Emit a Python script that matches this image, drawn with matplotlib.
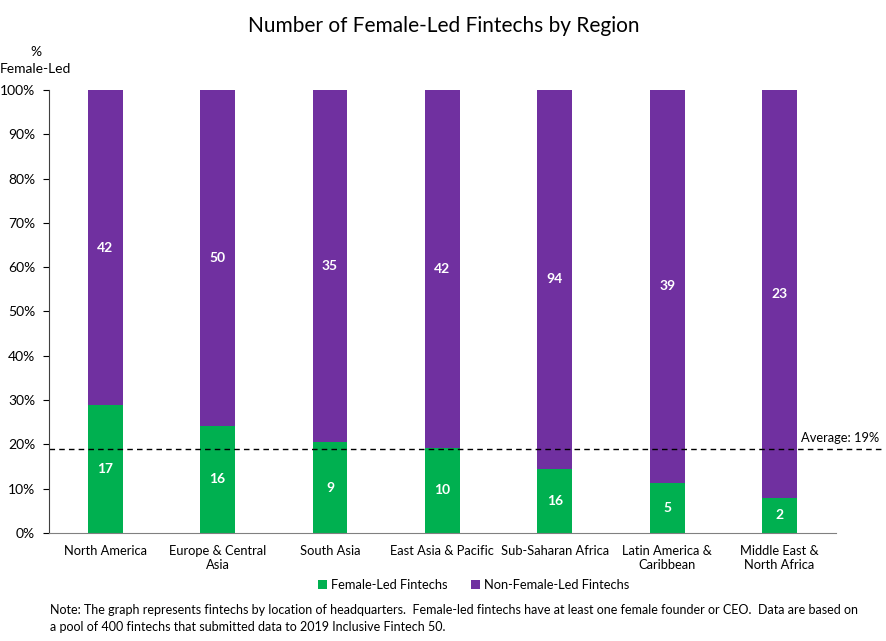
import numpy as np
import matplotlib.pyplot as plt
from matplotlib.ticker import PercentFormatter

regions = ['North America', 'Europe & Central\nAsia', 'South Asia', 'East Asia & Pacific',
           'Sub-Saharan Africa', 'Latin America &\nCaribbean', 'Middle East &\nNorth Africa']
female_led = np.array([17, 16, 9, 10, 16, 5, 2])
non_female_led = np.array([42, 50, 35, 42, 94, 39, 23])
average = 19

green = '#00B050'
purple = '#7030A0'

plt.rcParams['font.family'] = ['Lato', 'DejaVu Sans']

total = female_led + non_female_led
pct_f = female_led / total * 100
pct_n = non_female_led / total * 100

fig = plt.figure(figsize=(8.87, 6.41), dpi=100)
ax = fig.add_axes([0.0552, 0.1685, 0.887, 0.6911])

x = np.arange(len(regions))
w = 0.31
ax.bar(x, pct_f, w, color=green, label='Female-Led Fintechs')
ax.bar(x, pct_n, w, bottom=pct_f, color=purple, label='Non-Female-Led Fintechs')

for i in range(len(regions)):
    ax.text(x[i], pct_f[i] / 2, str(female_led[i]), ha='center', va='center',
            color='white', fontsize=10, fontweight='bold')
    ax.text(x[i], pct_f[i] + pct_n[i] / 2, str(non_female_led[i]), ha='center', va='center',
            color='white', fontsize=10, fontweight='bold')

# average line runs past the axes on the right
ax.plot([-0.5, 6.9], [average, average], ls=(0, (4, 3)), color='black', lw=1, clip_on=False)
ax.text(6.89, average + 1.2, f'Average: {average}%', ha='right', va='bottom', fontsize=9.3)

ax.set_xlim(-0.5, 6.5)
ax.set_ylim(0, 100)
ax.set_yticks(np.arange(0, 101, 10))
ax.yaxis.set_major_formatter(PercentFormatter(decimals=0))
ax.set_xticks(x)
ax.set_xticklabels(regions, fontsize=9.3)
ax.tick_params(axis='x', length=0, pad=9)
ax.tick_params(axis='y', length=4, labelsize=10, pad=6)
for s in ['top', 'right']:
    ax.spines[s].set_visible(False)
ax.spines['left'].set_color('#404040')
ax.spines['bottom'].set_color('#808080')

fig.text(0.04, 0.905, '%\nFemale-Led', ha='center', va='center', fontsize=10, linespacing=1.5)
fig.suptitle('Number of Female-Led Fintechs by Region', y=0.975, fontsize=15)

handles, labels = ax.get_legend_handles_labels()
fig.legend(handles, labels, loc='center', bbox_to_anchor=(0.534, 0.0874), ncol=2, frameon=False,
           fontsize=9.3, handlelength=0.7, handleheight=0.7, handletextpad=0.3, columnspacing=1.8)

fig.text(0.056, 0.012,
         'Note: The graph represents fintechs by location of headquarters.  Female-led fintechs have at least one female founder or CEO.  Data are based on\n'
         'a pool of 400 fintechs that submitted data to 2019 Inclusive Fintech 50.',
         ha='left', va='bottom', fontsize=9, linespacing=1.5)

fig.savefig('out.png', dpi=100)
